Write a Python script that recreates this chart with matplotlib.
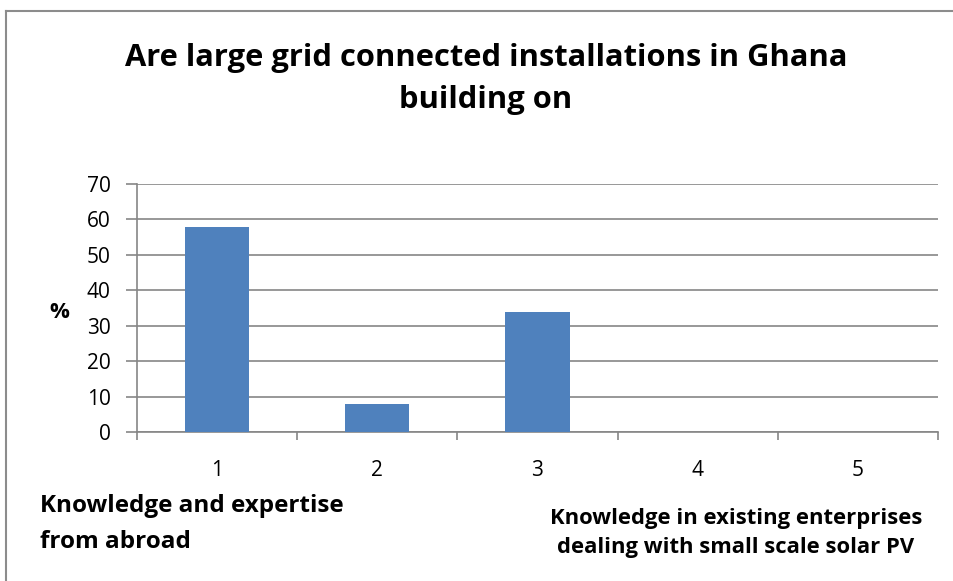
import matplotlib
matplotlib.use("Agg")
import matplotlib.pyplot as plt
from matplotlib.lines import Line2D

# data
categories = [1, 2, 3, 4, 5]
values = [58, 8, 34, 0, 0]
y_ticks = [0, 10, 20, 30, 40, 50, 60, 70]
title = "Are large grid connected installations in Ghana\nbuilding on"
left_note = "Knowledge and expertise\nfrom abroad"
right_note = "Knowledge in existing enterprises\ndealing with small scale solar PV"

plt.rcParams["font.family"] = ["Open Sans", "DejaVu Sans"]

W, H = 954, 581
fig = plt.figure(figsize=(W / 100, H / 100), dpi=100)
ax = fig.add_axes([137 / W, 1 - 432 / H, (938 - 137) / W, (432 - 184) / H])

grid_col = "#868686"
ax.bar(categories, values, width=0.4, color="#4F81BD", zorder=3)

ax.set_xlim(0.5, 5.5)
ax.set_ylim(0, 70)
ax.set_yticks(y_ticks)
ax.set_xticks(categories)
ax.set_xticks([c - 0.5 for c in categories] + [5.5], minor=True)
ax.yaxis.grid(True, color=grid_col, linewidth=1.2, zorder=0)
ax.tick_params(axis="y", direction="out", length=8, width=1.2, color=grid_col,
               labelsize=15, pad=11)
ax.tick_params(axis="x", which="major", length=0, labelsize=15, pad=20)
ax.tick_params(axis="x", which="minor", direction="out", length=6, width=1.2,
               color=grid_col)
for s in ["top", "right"]:
    ax.spines[s].set_visible(False)
for s in ["left", "bottom"]:
    ax.spines[s].set_color(grid_col)
    ax.spines[s].set_linewidth(1.2)

fig.text(486 / W, 1 - 79 / H, title, ha="center", va="center",
         fontsize=22.2, fontweight="bold", linespacing=1.52)
fig.text(59 / W, 1 - 312 / H, "%", ha="center", va="center",
         fontsize=16, fontweight="bold")
fig.text(40 / W, 1 - 524 / H, left_note, ha="left", va="center",
         fontsize=17.5, fontweight="bold", linespacing=1.62)
fig.text(736 / W, 1 - 533 / H, right_note, ha="center", va="center",
         fontsize=15.8, fontweight="bold", linespacing=1.5)

# chart area border (only top and left edges are inside the picture)
border = "#8c8c8c"
fig.add_artist(Line2D([6 / W, 6 / W], [0, 1 - 11 / H], transform=fig.transFigure,
                      color=border, linewidth=1.5))
fig.add_artist(Line2D([6 / W, 1], [1 - 11 / H, 1 - 11 / H], transform=fig.transFigure,
                      color=border, linewidth=1.5))

fig.savefig("out.png", dpi=100, facecolor="white")
